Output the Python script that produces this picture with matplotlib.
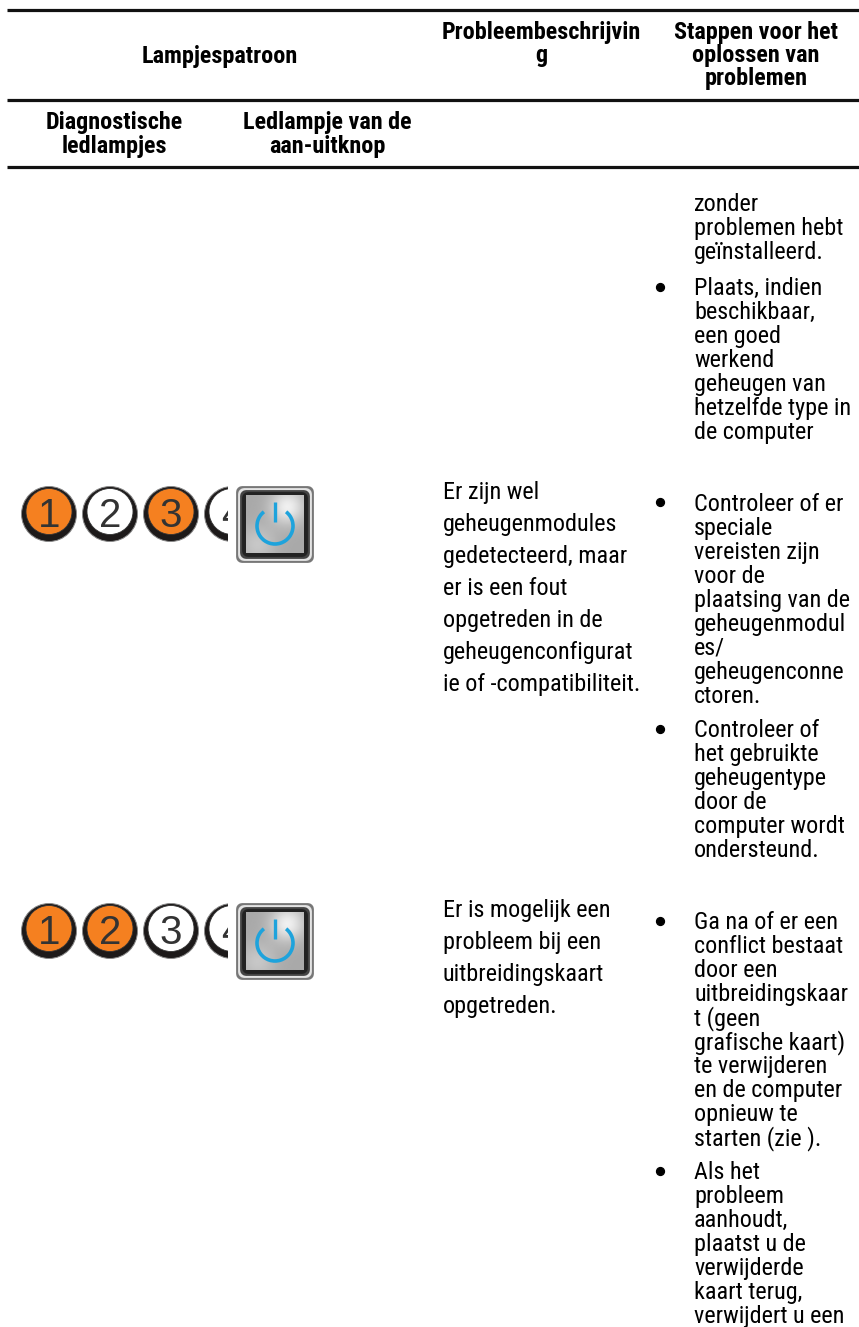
#!/usr/bin/env python3
"""Dell diagnostic LED table page, redrawn with matplotlib."""

import matplotlib
matplotlib.use("Agg")
import matplotlib.pyplot as plt
import numpy as np
from matplotlib.patches import Arc, Circle, FancyBboxPatch, Rectangle

# Table text
header_top = ["Lampjespatroon"]
header_problem = ["Probleembeschrijvin", "g"]
header_steps = ["Stappen voor het", "oplossen van", "problemen"]
header_leds = ["Diagnostische", "ledlampjes"]
header_power = ["Ledlampje van de", "aan-uitknop"]

steps_carry = ["zonder", "problemen hebt", "geïnstalleerd."]
steps_place = ["Plaats, indien", "beschikbaar,", "een goed", "werkend",
               "geheugen van", "hetzelfde type in", "de computer"]
steps_check = ["Controleer of er", "speciale", "vereisten zijn", "voor de",
               "plaatsing van de", "geheugenmodul", "es/", "geheugenconne", "ctoren."]
steps_type = ["Controleer of", "het gebruikte", "geheugentype", "door de",
              "computer wordt", "ondersteund."]
steps_card = ["Ga na of er een", "conflict bestaat", "door een", "uitbreidingskaar",
              "t (geen", "grafische kaart)", "te verwijderen", "en de computer",
              "opnieuw te", "starten (zie )."]
steps_back = ["Als het", "probleem", "aanhoudt,", "plaatst u de", "verwijderde",
              "kaart terug,", "verwijdert u een"]

problem_memory = ["Er zijn wel", "geheugenmodules", "gedetecteerd, maar", "er is een fout",
                  "opgetreden in de", "geheugenconfigurat", "ie of -compatibiliteit."]
problem_card = ["Er is mogelijk een", "probleem bij een", "uitbreidingskaart", "opgetreden."]

# LED states per row, led number -> lit or not
led_numbers = ["1", "2", "3", "4"]
leds_memory = [True, False, True, False]
leds_card = [True, True, False, False]

ORANGE = "#f58020"
BLUE = "#1ea3dc"
W, H = 859, 1327

plt.rcParams["font.family"] = ["Roboto Condensed", "Liberation Sans", "DejaVu Sans"]


def draw_lines(ax, lines, x, baseline, pitch, size=17.4, weight="normal", ha="left"):
    for i, line in enumerate(lines):
        ax.text(x, baseline + i * pitch, line, fontsize=size, fontweight=weight,
                ha=ha, va="baseline", color="black")


def draw_led(ax, cx, cy, label, lit, clip):
    outer = Circle((cx, cy), 27.5, fc="#1d1a1a", ec="#8a8a8a", lw=0.7, zorder=3)
    inner = Circle((cx, cy - 2.5), 23, fc=ORANGE if lit else "white", ec="#333333", lw=0.6, zorder=4)
    ax.add_patch(outer)
    ax.add_patch(inner)
    txt = ax.text(cx, cy - 2, label, fontsize=29, ha="center", va="center_baseline",
                  color="#333333", family="Liberation Sans", zorder=5, clip_on=True)
    for art in (outer, inner, txt):
        art.set_clip_path(clip)


def draw_power(ax, x0, y0):
    for inset, colour in [(0, "#777777"), (2, "#e4e4e4"), (4, "#444444"), (6, "#222222")]:
        ax.add_patch(FancyBboxPatch((x0 + inset + 6, y0 + inset + 6), 78 - 2 * inset - 12, 77 - 2 * inset - 12,
                                    boxstyle="round,pad=0,rounding_size=0", fc=colour, ec=colour, lw=8.5,
                                    joinstyle="round", zorder=3))
    # brushed metal face of the button
    yy, xx = np.mgrid[0:1:60j, 0:1:60j]
    shade = 0.66 + 0.28 * np.exp(-((xx - 0.72) ** 2 + (yy - 0.2) ** 2) / 0.09) \
        + 0.12 * np.exp(-((xx - 0.2) ** 2 + (yy - 0.85) ** 2) / 0.1)
    ax.imshow(shade, extent=(x0 + 10, x0 + 68, y0 + 67, y0 + 9), cmap="gray", vmin=0, vmax=1,
              zorder=4, aspect="auto", interpolation="bilinear")
    cx, cy = x0 + 39, y0 + 40
    ax.add_patch(Arc((cx, cy), 36, 36, theta1=-52, theta2=232, ec=BLUE, lw=2.6, zorder=5))
    ax.plot([cx, cx], [y0 + 16, y0 + 36], color=BLUE, lw=2.4, zorder=5, solid_capstyle="butt")


def main():
    fig = plt.figure(figsize=(W / 100, H / 100), dpi=100)
    ax = fig.add_axes([0, 0, 1, 1])

    # Rules
    for y in (10, 100, 167):
        ax.plot([7, W], [y, y], color="#111111", lw=2.3, solid_capstyle="butt")

    # Header cells
    draw_lines(ax, header_top, 220, 63, 24, size=17.4, weight="bold", ha="center")
    draw_lines(ax, header_problem, 541, 39, 23, size=17.4, weight="bold", ha="center")
    draw_lines(ax, header_steps, 756, 39, 23, size=17.4, weight="bold", ha="center")
    draw_lines(ax, header_leds, 114, 129, 24, size=17.4, weight="bold", ha="center")
    draw_lines(ax, header_power, 327, 129, 24, size=17.4, weight="bold", ha="center")

    # Problem column
    draw_lines(ax, problem_memory, 443, 499, 32)
    draw_lines(ax, problem_card, 443, 917, 32)

    # Steps column
    draw_lines(ax, steps_carry, 694, 211, 24)
    draw_lines(ax, steps_place, 694, 295, 24)
    draw_lines(ax, steps_check, 694, 511, 24)
    draw_lines(ax, steps_type, 694, 737, 24)
    draw_lines(ax, steps_card, 694, 929, 24)
    draw_lines(ax, steps_back, 694, 1179, 24)

    # Bullets
    ax.scatter([660] * 5, [287, 502, 729, 921, 1171], s=32, color="black", zorder=3)

    # LED rows and power buttons
    for top, states in [(486, leds_memory), (903, leds_card)]:
        clip = Rectangle((0, top - 5), 228, 70, transform=ax.transData)
        for cx, label, lit in zip((49, 110, 171, 232), led_numbers, states):
            draw_led(ax, cx, top + 28, label, lit, clip)
        draw_power(ax, 236, top)

    ax.set_xlim(0, W)
    ax.set_ylim(H, 0)
    ax.axis("off")
    fig.savefig("out.png", dpi=100)
    plt.close(fig)


if __name__ == '__main__':
    main()
